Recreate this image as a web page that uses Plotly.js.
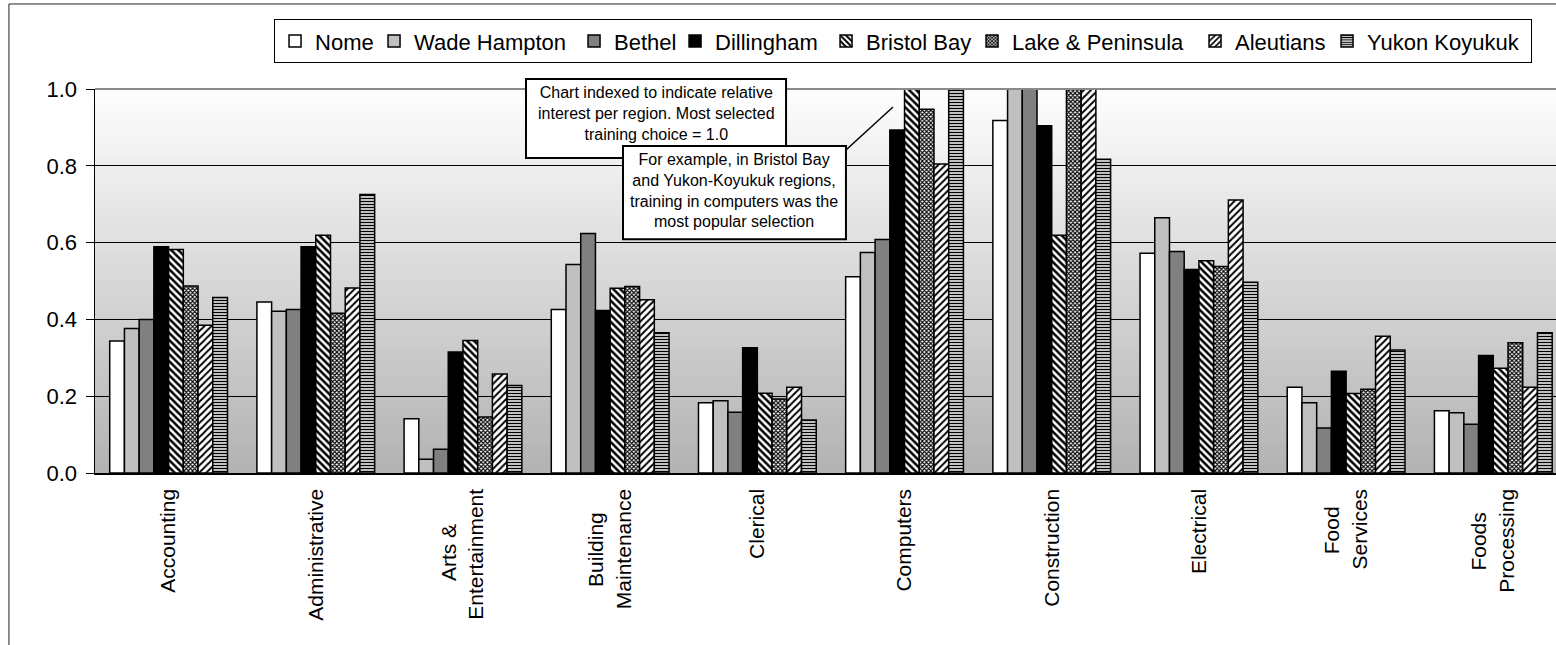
<!DOCTYPE html>
<html><head><meta charset="utf-8">
<script src="https://cdn.plot.ly/plotly-3.0.1.min.js"></script>
<style>html,body{margin:0;padding:0;overflow:hidden;background:#fff}</style>
</head><body><div id="chart" style="width:1556px;height:645px"></div>
<script>
// ---- data ----
const categories = ['Accounting','Administrative','Arts & Entertainment','Building Maintenance','Clerical','Computers','Construction','Electrical','Food Services','Foods Processing'];
const tickLabels = ['Accounting','Administrative','Arts &<br>Entertainment','Building<br>Maintenance','Clerical','Computers','Construction','Electrical','Food<br>Services','Foods<br>Processing'];
const seriesNames = ['Nome','Wade Hampton','Bethel','Dillingham','Bristol Bay','Lake & Peninsula','Aleutians','Yukon Koyukuk'];
const nome          = [0.344,0.445,0.141,0.426,0.183,0.511,0.918,0.572,0.223,0.162];
const wadeHampton   = [0.376,0.421,0.036,0.543,0.188,0.574,1.000,0.665,0.183,0.157];
const bethel        = [0.400,0.426,0.062,0.624,0.158,0.608,1.000,0.577,0.117,0.127];
const dillingham    = [0.589,0.589,0.315,0.423,0.326,0.893,0.904,0.530,0.265,0.306];
const bristolBay    = [0.582,0.619,0.345,0.481,0.208,1.000,0.619,0.553,0.207,0.273];
const lakePeninsula = [0.487,0.416,0.146,0.486,0.193,0.947,1.000,0.538,0.218,0.339];
const aleutians     = [0.385,0.482,0.258,0.451,0.223,0.805,1.000,0.711,0.356,0.223];
const yukonKoyukuk  = [0.457,0.725,0.228,0.365,0.138,1.000,0.817,0.497,0.320,0.365];
const seriesValues = [nome, wadeHampton, bethel, dillingham, bristolBay, lakePeninsula, aleutians, yukonKoyukuk];
const noteIndexed = 'Chart indexed to indicate relative<br>interest per region. Most selected<br>training choice = 1.0';
const noteExample = 'For example, in Bristol Bay<br>and Yukon-Koyukuk regions,<br>training in computers was the<br>most popular selection';

// ---- styles ----
const FONT = 'Liberation Sans, Arial, sans-serif';
const pat = (shape, size, solidity) => ({shape, size, solidity, fgcolor:'#000000', bgcolor:'#ffffff', fillmode:'replace'});
const seriesStyles = [
  {color:'#ffffff'},
  {color:'#c0c0c0'},
  {color:'#808080'},
  {color:'#000000'},
  {color:'#ffffff', pattern: pat('\\', 5, 0.5)},
  {color:'#ffffff', pattern: pat('x', 3, 0.6)},
  {color:'#ffffff', pattern: pat('/', 5, 0.4)},
  {color:'#ffffff', pattern: pat('-', 3, 0.5)}
];
const legendWidths = [54,155,56,106,101,178,87,159];

function centerLabel(label, font) {
  const lines = label.split('<br>');
  if (lines.length < 2) return label;
  const ctx = document.createElement('canvas').getContext('2d');
  ctx.font = font;
  const w = lines.map(l => ctx.measureText(l).width);
  const max = Math.max(...w);
  const sp = ctx.measureText('\u00a0').width || 5;
  return lines.map((l, i) => l + '\u00a0'.repeat(Math.round((max - w[i]) / 2 / sp))).join('<br>');
}
const tickText = tickLabels.map(t => centerLabel(t, '21px "Liberation Sans", Arial'));

const traces = seriesNames.map((name, i) => ({
  type: 'bar',
  name: name,
  x: categories,
  y: seriesValues[i],
  legendwidth: legendWidths[i],
  marker: Object.assign({line:{color:'#000000', width:1.5}}, seriesStyles[i]),
  hoverinfo: 'x+y+name'
}));

// background gradient bands (plot area)
const shapes = [];
const N = 64;
for (let i = 0; i < N; i++) {
  const t = (i + 0.5) / N;
  const c = Math.round(178 + (254 - 178) * t);
  shapes.push({type:'rect', xref:'x domain', yref:'y domain', x0:0, x1:1, y0:i/N, y1:(i+1)/N,
    fillcolor:`rgb(${c},${c},${c})`, line:{width:0}, layer:'below'});
}
// outer chart border
shapes.push({type:'rect', xref:'paper', yref:'paper', x0:-0.0589, x1:1.05, y0:-1, y1:1.2214,
  line:{color:'#222222', width:1}, fillcolor:'rgba(0,0,0,0)', layer:'below'});
// gray top edge of plot area
shapes.push({type:'line', xref:'paper', yref:'paper', x0:0, x1:1, y0:1, y1:1,
  line:{color:'#8a8a8a', width:2}, layer:'above'});
// note boxes + callout line
shapes.push({type:'rect', xref:'paper', yref:'paper', x0:0.295, x1:0.473, y0:0.8203, y1:1.026,
  line:{color:'#000000', width:2}, fillcolor:'#ffffff', layer:'above'});
shapes.push({type:'line', xref:'paper', yref:'paper', x0:0.514, y0:0.841, x1:0.5462, y1:0.953,
  line:{color:'#000000', width:1.5}, layer:'above'});
shapes.push({type:'rect', xref:'paper', yref:'paper', x0:0.3614, x1:0.514, y0:0.609, y1:0.8516,
  line:{color:'#000000', width:2}, fillcolor:'#ffffff', layer:'above'});

const layout = {
  width: 1556, height: 645,
  margin: {l:95, r:0, t:89, b:172},
  paper_bgcolor: '#ffffff',
  plot_bgcolor: '#b8b8b8',
  font: {family: FONT, color:'#000000'},
  barmode: 'group',
  bargap: 0.2,
  bargroupgap: 0,
  showlegend: true,
  legend: {orientation:'h', x:0.9836, xanchor:'right', y:1.1815, yanchor:'top',
    bgcolor:'#ffffff', bordercolor:'#000000', borderwidth:1, font:{size:22, family:FONT},
    traceorder:'normal'},
  xaxis: {type:'category', range:[-0.5, 9.426], tickvals: categories, ticktext: tickText,
    tickangle:-90, tickfont:{size:21, family:FONT}, ticklabelstandoff:6, showline:true, linecolor:'#000000', linewidth:1.5,
    ticks:'', showgrid:false, zeroline:false, fixedrange:true},
  yaxis: {range:[0, 1], dtick:0.2, tickformat:'.1f', ticks:'outside', ticklen:8, tickcolor:'#000000',
    tickwidth:1, tickfont:{size:22, family:FONT}, ticklabelstandoff:4, showline:true, linecolor:'#000000', linewidth:1.5,
    showgrid:true, gridcolor:'#000000', gridwidth:1, zeroline:false, fixedrange:true},
  shapes: shapes,
  annotations: [
    {xref:'paper', yref:'paper', x:0.384, y:1.0182, xanchor:'center', yanchor:'top', showarrow:false,
     text: noteIndexed, align:'center', font:{size:16, family:FONT}},
    {xref:'paper', yref:'paper', x:0.4377, y:0.8438, xanchor:'center', yanchor:'top', showarrow:false,
     text: noteExample, align:'center', font:{size:16, family:FONT}}
  ]
};
Plotly.newPlot('chart', traces, layout, {displayModeBar:false, staticPlot:true});
</script></body></html>
